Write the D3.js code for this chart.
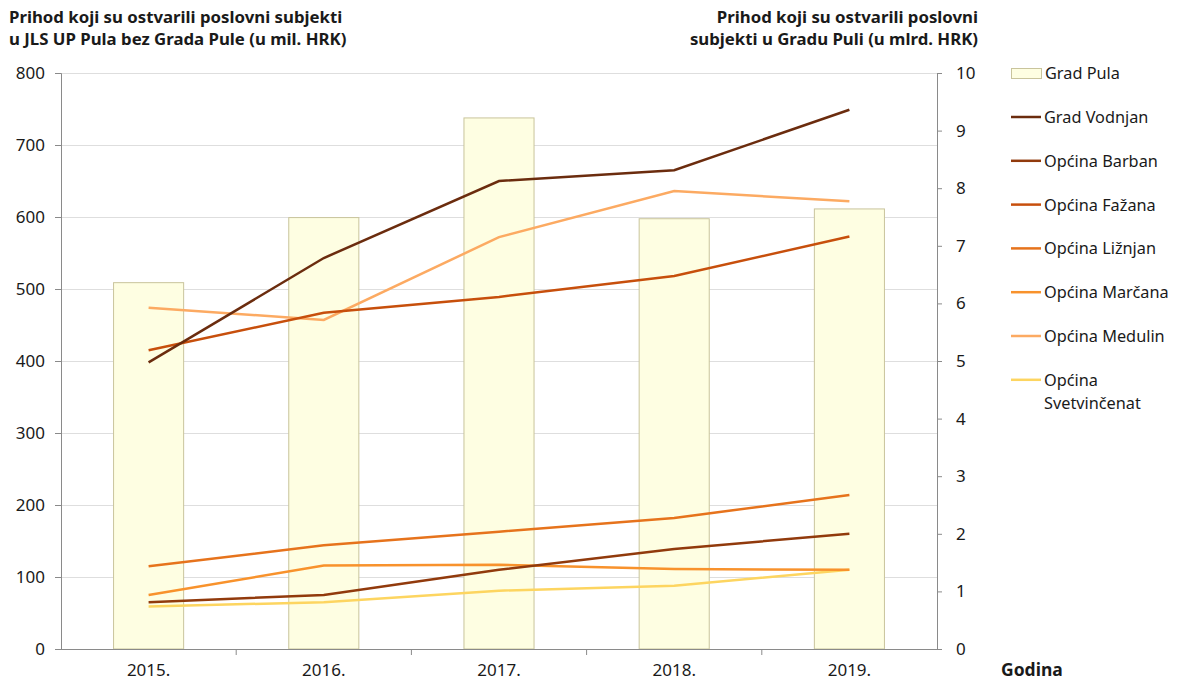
<!DOCTYPE html>
<html>
<head>
<meta charset="utf-8">
<script src="https://cdn.jsdelivr.net/npm/d3@7"></script>
<style>
  body { margin: 0; background: #fff; }
  svg text { font-family: "Noto Sans", "Open Sans", sans-serif; fill: #1a1a1a; }
</style>
</head>
<body>
<div id="chart"></div>
<script>
var years = ["2015.", "2016.", "2017.", "2018.", "2019."];
var gradPula = [6.36, 7.49, 9.22, 7.47, 7.64];
var vodnjan = [398, 543, 650, 665, 749];
var barban = [65, 75, 110, 139, 160];
var fazana = [415, 467, 489, 518, 573];
var liznjan = [115, 144, 163, 182, 214];
var marcana = [75, 116, 117, 111, 110];
var medulin = [474, 457, 572, 636, 622];
var svetvincenat = [59, 65, 81, 88, 110];
var leftTicks = [0, 100, 200, 300, 400, 500, 600, 700, 800];
var rightTicks = [0, 1, 2, 3, 4, 5, 6, 7, 8, 9, 10];

var series = [
  { name: ["Grad Vodnjan"], values: vodnjan, color: "#6b2c0e" },
  { name: ["Općina Barban"], values: barban, color: "#913a0c" },
  { name: ["Općina Fažana"], values: fazana, color: "#c74f0c" },
  { name: ["Općina Ližnjan"], values: liznjan, color: "#e6731c" },
  { name: ["Općina Marčana"], values: marcana, color: "#f8922c" },
  { name: ["Općina Medulin"], values: medulin, color: "#fcaa62" },
  { name: ["Općina", "Svetvinčenat"], values: svetvincenat, color: "#fdd560" }
];

var margin = { top: 73, left: 61 },
  width = 876,
  height = 576;

var svg = d3.select("#chart").append("svg")
  .attr("width", 1182)
  .attr("height", 680);

var g = svg.append("g")
  .attr("transform", "translate(" + margin.left + "," + margin.top + ")");

var x = d3.scaleBand().domain(years).range([0, width]);
var yL = d3.scaleLinear().domain([0, 800]).range([height, 0]);
var yR = d3.scaleLinear().domain([0, 10]).range([height, 0]);

// grid
g.append("g").selectAll("line")
  .data(leftTicks.slice(1))
  .enter().append("line")
  .attr("x1", 0).attr("x2", width)
  .attr("y1", function(d) { return yL(d) + 0.5; })
  .attr("y2", function(d) { return yL(d) + 0.5; })
  .attr("stroke", "#dedede");

// bars
var bw = x.bandwidth() * 0.4;
g.append("g").selectAll("rect")
  .data(gradPula)
  .enter().append("rect")
  .attr("x", function(d, i) { return x(years[i]) + x.bandwidth() / 2 - bw / 2; })
  .attr("width", bw)
  .attr("y", function(d) { return yR(d); })
  .attr("height", function(d) { return height - yR(d); })
  .attr("fill", "#fefee2")
  .attr("stroke", "#c9c49c")
  .attr("stroke-width", 1);

// axes
var leftAxis = d3.axisLeft(yL).tickValues(leftTicks).tickSize(6).tickPadding(10);
var rightAxis = d3.axisRight(yR).tickValues(rightTicks).tickSize(5).tickPadding(14);
var bottomAxis = d3.axisBottom(x).tickSize(0).tickPadding(15);

function styleAxis(sel) {
  sel.selectAll("path, line").attr("stroke", "#8a8a8a");
  sel.selectAll("text").style("font-size", "17px").attr("fill", "#1a1a1a");
}

g.append("g").call(leftAxis).call(styleAxis);
g.append("g").attr("transform", "translate(" + width + ",0)").call(rightAxis).call(styleAxis);
var xa = g.append("g").attr("transform", "translate(0," + height + ")").call(bottomAxis).call(styleAxis);
xa.select(".domain").attr("d", "M-5,0.5H" + (width + 5));
xa.selectAll(".sep")
  .data(years.slice(1))
  .enter().append("line")
  .attr("x1", function(d) { return x(d); })
  .attr("x2", function(d) { return x(d); })
  .attr("y1", 0).attr("y2", 6)
  .attr("stroke", "#8a8a8a");

// lines
var line = d3.line()
  .x(function(d, i) { return x(years[i]) + x.bandwidth() / 2; })
  .y(function(d) { return yL(d); });

g.append("g").selectAll("path")
  .data(series.slice().reverse())
  .enter().append("path")
  .attr("d", function(d) { return line(d.values); })
  .attr("fill", "none")
  .attr("stroke", function(d) { return d.color; })
  .attr("stroke-width", 2.5);

// titles
svg.append("text")
  .attr("x", 9).attr("y", 23)
  .style("font-size", "16.8px").style("font-weight", "bold")
  .selectAll("tspan")
  .data(["Prihod koji su ostvarili poslovni subjekti", "u JLS UP Pula bez Grada Pule (u mil. HRK)"])
  .enter().append("tspan")
  .attr("x", 9)
  .attr("dy", function(d, i) { return i ? "1.3em" : 0; })
  .text(function(d) { return d; });

svg.append("text")
  .attr("x", 978).attr("y", 23)
  .attr("text-anchor", "end")
  .style("font-size", "16.8px").style("font-weight", "bold")
  .selectAll("tspan")
  .data(["Prihod koji su ostvarili poslovni", "subjekti u Gradu Puli (u mlrd. HRK)"])
  .enter().append("tspan")
  .attr("x", 978)
  .attr("dy", function(d, i) { return i ? "1.3em" : 0; })
  .text(function(d) { return d; });

svg.append("text")
  .attr("x", 1001).attr("y", 676)
  .style("font-size", "17.5px").style("font-weight", "bold")
  .text("Godina");

// legend
var legend = svg.append("g").attr("transform", "translate(1011,0)");
legend.append("rect")
  .attr("x", 0.5).attr("y", 68.5)
  .attr("width", 30).attr("height", 10)
  .attr("fill", "#fefee2").attr("stroke", "#c9c49c");
legend.append("text")
  .attr("x", 34).attr("y", 79)
  .style("font-size", "16.3px")
  .text("Grad Pula");

var rows = legend.selectAll(".row")
  .data(series)
  .enter().append("g")
  .attr("class", "row")
  .attr("transform", function(d, i) { return "translate(0," + (117 + i * 43.8) + ")"; });
rows.append("line")
  .attr("x1", 0).attr("x2", 30)
  .attr("stroke", function(d) { return d.color; })
  .attr("stroke-width", 2.5);
rows.append("text")
  .attr("y", 6)
  .style("font-size", "16.3px")
  .selectAll("tspan")
  .data(function(d) { return d.name; })
  .enter().append("tspan")
  .attr("x", 33)
  .attr("dy", function(d, i) { return i ? "1.45em" : 0; })
  .text(function(d) { return d; });
</script>
</body>
</html>
